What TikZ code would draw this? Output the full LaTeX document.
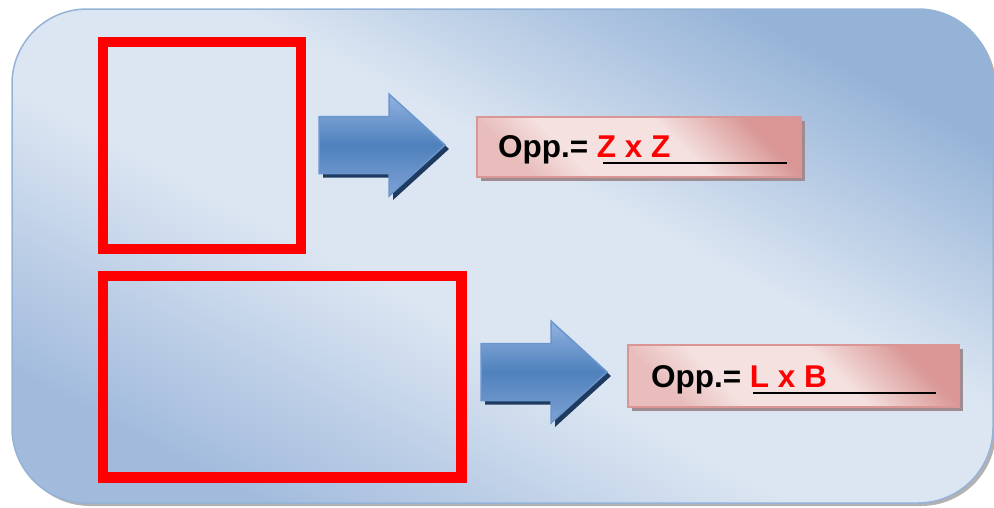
\documentclass[tikz,border=0pt]{standalone}
\usepackage{fontspec}
\setmainfont{Liberation Sans}
\definecolor{paneldark}{HTML}{95B3D7}
\definecolor{panelbl}{HTML}{A2BBDD}
\definecolor{panellight}{HTML}{DCE6F2}
\definecolor{panelline}{HTML}{95B3D7}
\definecolor{pinkdark}{HTML}{D99694}
\definecolor{pinkmid}{HTML}{E8BDBC}
\definecolor{pinklight}{HTML}{F4E1E0}
\definecolor{pinkline}{HTML}{D99694}
\definecolor{pinkshadow}{HTML}{9E8C90}
\definecolor{arrtop}{HTML}{93B3E0}
\definecolor{arrmid}{HTML}{4F81BD}
\definecolor{arrbot}{HTML}{7FA2D5}
\definecolor{arrline}{HTML}{6A96CE}
\definecolor{arrshadow}{HTML}{1F3A5F}
\pgfdeclareverticalshading{panelshade}{100bp}{color(0bp)=(panelbl); color(25bp)=(panelbl); color(44bp)=(panellight); color(57bp)=(panellight); color(75bp)=(paneldark); color(100bp)=(paneldark)}
\pgfdeclareverticalshading{pinkshade}{100bp}{color(0bp)=(pinkmid); color(25bp)=(pinkmid); color(36bp)=(pinklight); color(58bp)=(pinklight); color(75bp)=(pinkdark); color(100bp)=(pinkdark)}
\begin{document}
\begin{tikzpicture}[x=1pt,y=-1pt,
  redbox/.style={draw=red, line width=10.5pt, inner sep=0pt, outer sep=0pt},
  formbox/.style={draw=pinkline, line width=1.8pt, inner sep=0pt, outer sep=0pt,
    shading=pinkshade, shading angle=-45},
  formshadow/.style={fill=pinkshadow, inner sep=0pt, outer sep=0pt},
  formtext/.style={font=\fontsize{31.5}{38}\selectfont\bfseries, inner sep=0pt, outer sep=0pt, anchor=base west},
  uline/.style={line width=2.2pt, black},
  bigarrow/.pic={
    \fill[arrshadow] (4,-24.5) -- (74,-24.5) -- (74,-47) -- (130,4) -- (74,55) -- (74,32.5) -- (4,32.5) -- cycle;
    \draw[arrline, line width=1.5pt, shading=axis, top color=arrtop, bottom color=arrbot, middle color=arrmid, line join=miter]
      (0,-28.5) -- (70,-28.5) -- (70,-51) -- (126,0) -- (70,51) -- (70,28.5) -- (0,28.5) -- cycle;
  }]
\useasboundingbox (0,0) rectangle (994,507);
% panel
\fill[gray!60, rounded corners=75pt] (15,12) rectangle (996,506);
\draw[panelline, line width=1.5pt, rounded corners=75pt, shading=panelshade, shading angle=-28]
  (12,9) rectangle (993,503);
% red rectangles
\node[redbox, minimum width=198pt, minimum height=207pt] (sq) at (202,145.5) {};
\node[redbox, minimum width=358.5pt, minimum height=201.5pt] (rect) at (282.25,376.75) {};
% arrows
\pic at (319,145) {bigarrow};
\pic at (481,372) {bigarrow};
% formula boxes
\node[formshadow, minimum width=324pt, minimum height=60pt] (b1s) at (643,151) {};
\node[formbox, minimum width=324pt, minimum height=60pt] (b1) at (639,147) {};
\node[formshadow, minimum width=331pt, minimum height=62pt] (b2s) at (797.5,380) {};
\node[formbox, minimum width=331pt, minimum height=62pt] (b2) at (793.5,376) {};
% texts
\node[formtext] (t1) at (498,157) {Opp.= \textcolor{red}{Z x Z}};
\coordinate (u1a) at (603,163);
\coordinate (u1b) at (787,163);
\draw[uline] (u1a) -- (u1b);
\node[formtext] (t2) at (651,387) {Opp.= \textcolor{red}{L x B}};
\coordinate (u2a) at (753,393);
\coordinate (u2b) at (936,393);
\draw[uline] (u2a) -- (u2b);
\end{tikzpicture}
\end{document}
